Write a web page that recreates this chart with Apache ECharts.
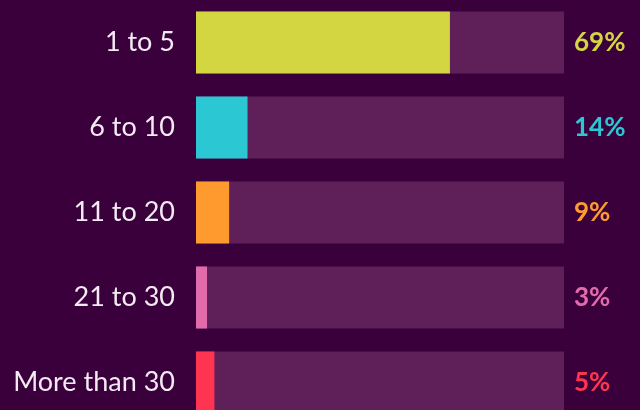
<!DOCTYPE html>
<html>
<head>
<meta charset="utf-8">
<script src="https://cdn.jsdelivr.net/npm/echarts@6/dist/echarts.min.js"></script>
<style>
  html, body { margin: 0; padding: 0; background: #3a003c; }
  #chart { width: 640px; height: 410px; }
</style>
</head>
<body>
<div id="chart"></div>
<script>
// Share of respondents per group size
const categories = ['1 to 5', '6 to 10', '11 to 20', '21 to 30', 'More than 30'];
const shares = [69, 14, 9, 3, 5];
const barColors = ['#d3d641', '#2bc7d3', '#ff9a2e', '#e26cab', '#ff3450'];
const trackMax = 100;

const chart = echarts.init(document.getElementById('chart'), null, { renderer: 'canvas' });

chart.setOption({
  backgroundColor: '#3a003c',
  animation: false,
  grid: {
    left: 196, right: 76, top: 0, bottom: -15,
    containLabel: false,
    outerBoundsMode: 'none'
  },
  xAxis: {
    type: 'value', min: 0, max: trackMax,
    show: false
  },
  yAxis: {
    type: 'category',
    data: categories,
    inverse: true,
    axisLine: { show: false },
    axisTick: { show: false },
    splitLine: { show: false },
    axisLabel: {
      margin: 21,
      color: '#f3eaf3',
      fontFamily: 'Lato',
      fontSize: 27
    }
  },
  series: [
    {
      // full-width track behind each bar, carrying the percentage label
      type: 'bar',
      data: categories.map((c, i) => ({
        value: trackMax,
        label: { color: barColors[i] }
      })),
      barWidth: 62,
      barGap: '-100%',
      silent: true,
      z: 1,
      itemStyle: { color: '#5f1f58' },
      label: {
        show: true,
        position: 'right',
        distance: 10,
        fontFamily: 'Lato',
        fontWeight: 'bold',
        fontSize: 26,
        formatter: p => shares[p.dataIndex] + '%'
      }
    },
    {
      type: 'bar',
      data: shares.map((v, i) => ({ value: v, itemStyle: { color: barColors[i] } })),
      barWidth: 62,
      z: 2
    }
  ]
});
</script>
</body>
</html>
